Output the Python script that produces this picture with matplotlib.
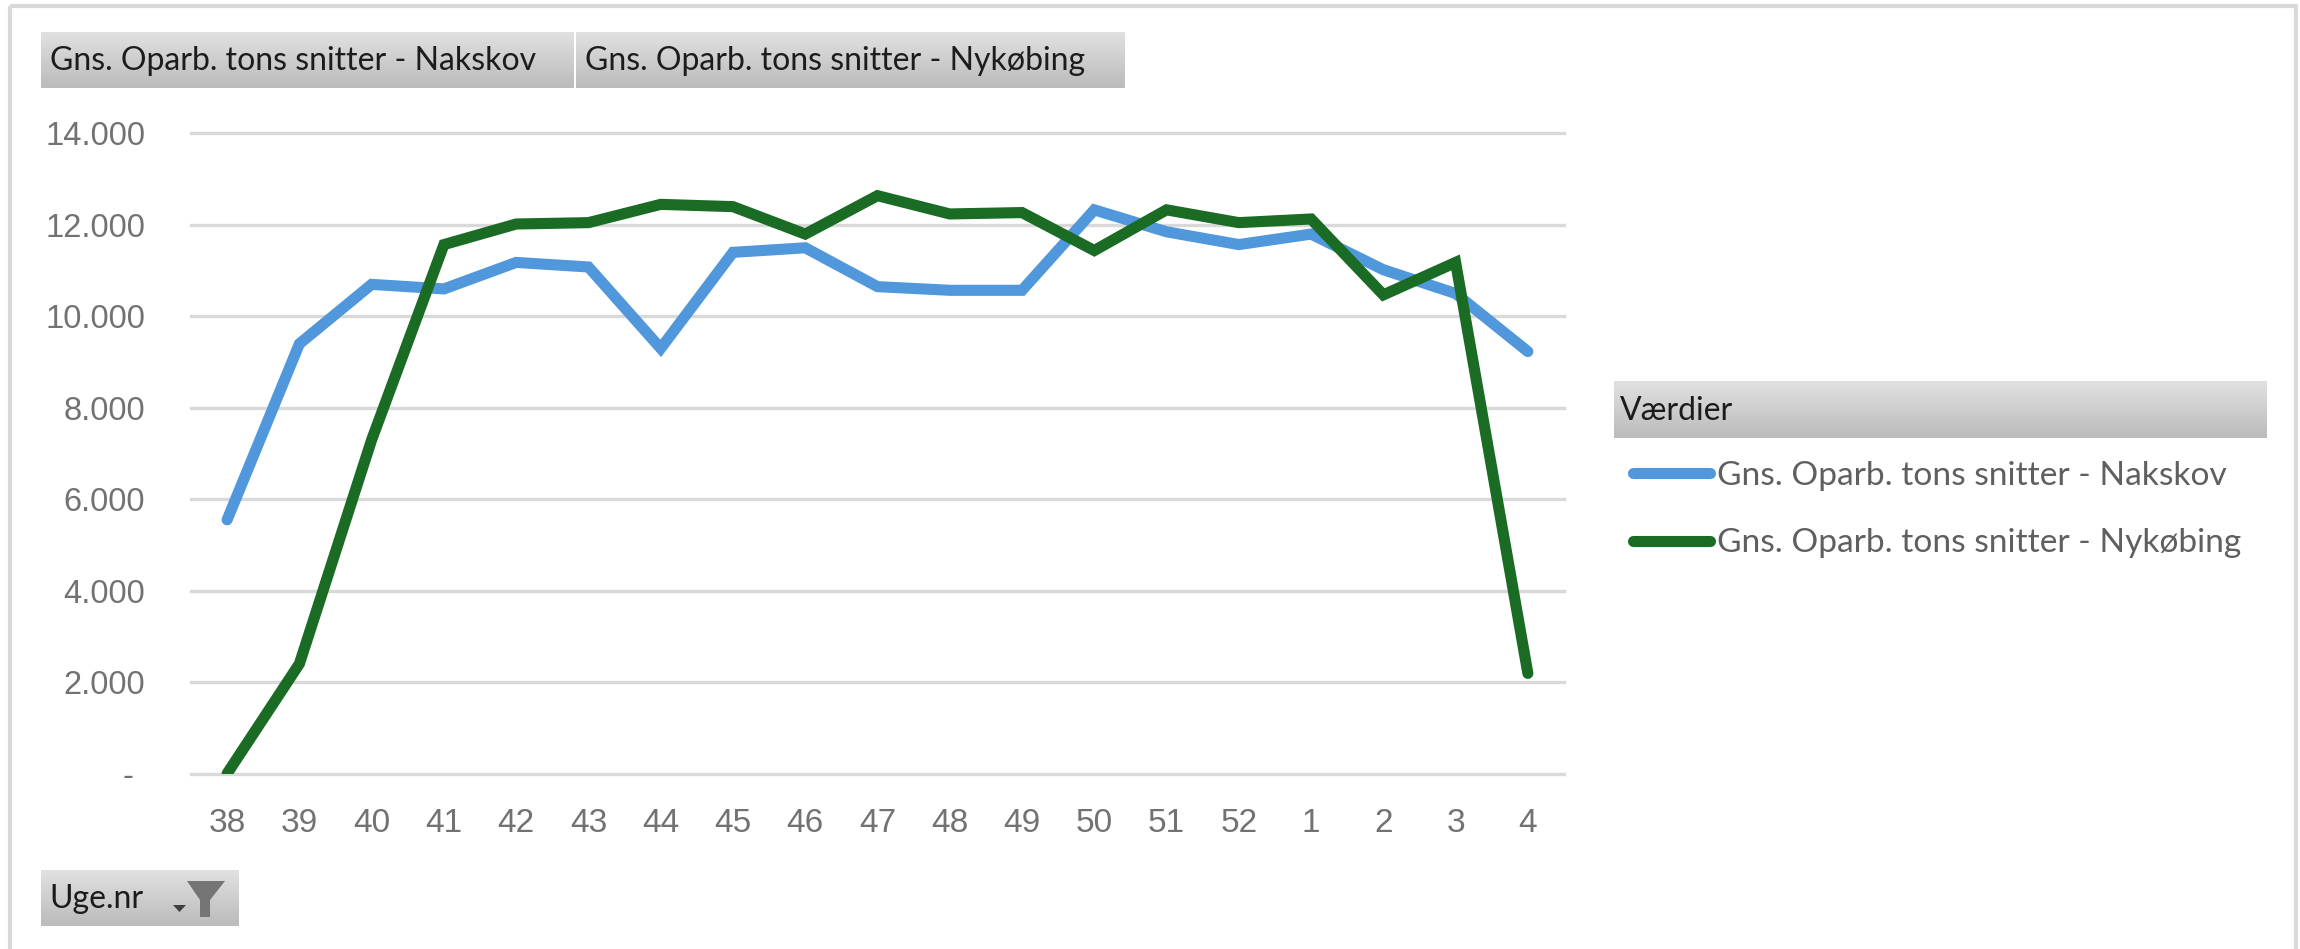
#!/usr/bin/python3

import numpy as np
import matplotlib
matplotlib.use('Agg')
import matplotlib.pyplot as plt
from matplotlib.colors import LinearSegmentedColormap
from matplotlib.patches import Polygon, Rectangle
from matplotlib.transforms import ScaledTranslation

# chart data
weeks = ['38','39','40','41','42','43','44','45','46','47','48','49','50','51','52','1','2','3','4']
nakskov = [5550,9400,10700,10600,11180,11080,9300,11400,11500,10650,10570,10570,12330,11850,11570,11800,11020,10500,9230]
nykobing = [0,2400,7300,11570,12020,12050,12450,12400,11800,12640,12240,12270,11440,12330,12050,12130,10470,11180,2190]
yticks = [0,2000,4000,6000,8000,10000,12000,14000]
ylabels = ['-','2.000','4.000','6.000','8.000','10.000','12.000','14.000']
label_nak = 'Gns. Oparb. tons snitter - Nakskov'
label_nyk = 'Gns. Oparb. tons snitter - Nykøbing'

W, H = 2300, 949
fig = plt.figure(figsize=(W/100, H/100), dpi=100, facecolor='white')

# full figure layer in pixel coordinates, for the pivot chart buttons
bg = fig.add_axes([0, 0, 1, 1], zorder=0)
grad = np.linspace(0, 1, 64).reshape(-1, 1)
button_cmap = LinearSegmentedColormap.from_list('button', ['#e1e1e1', '#bbbbbb'])

def button(x0, x1, y0, y1, txt, tx):
    bg.imshow(grad, extent=(x0, x1, y1, y0), cmap=button_cmap, aspect='auto', zorder=2)
    bg.text(tx, (y0+y1)/2 + 1, txt, family='Lato', fontsize=23, color='#1c1c1c', va='center', ha='left', zorder=3)

# window border
bg.add_patch(Rectangle((9.5, 5.5), 2286, 960, fc='none', ec='#d9d9d9', lw=3, zorder=1))

button(41, 574, 32, 88, label_nak, 50)
button(576, 1125, 32, 88, label_nyk, 585)
button(41, 239, 870, 926, 'Uge.nr', 49)
button(1614, 2267, 382, 438, 'Værdier', 1620)

# filter icon and drop arrow on the Uge.nr button
bg.add_patch(Polygon([(187, 881), (225, 881), (210, 900), (210, 917), (200, 917), (200, 900)], fc='#757575', ec='none', zorder=4))
bg.add_patch(Polygon([(173, 905), (186, 905), (179.5, 912)], fc='#404040', ec='none', zorder=4))
bg.set_xlim(0, W)
bg.set_ylim(H, 0)
bg.axis('off')

# plot area
left, right, top, bottom = 191, 1564, 133.5, 773.5
ax = fig.add_axes([left/W, 1-bottom/H, (right-left)/W, (bottom-top)/H], zorder=2)
ax.patch.set_alpha(0)
x = np.arange(len(weeks))
ax.plot(x, nakskov, color='#5097dc', lw=8, solid_joinstyle='miter', solid_capstyle='round', label=label_nak, zorder=3)
ax.plot(x, nykobing, color='#1a6b24', lw=8, solid_joinstyle='miter', solid_capstyle='round', label=label_nyk, zorder=4)
ax.set_xlim(-0.5, len(weeks)-0.5)
ax.set_ylim(0, 14000)
ax.set_xticks(x)
ax.set_xticklabels(weeks, family='Liberation Sans', fontsize=24, color='#727272')
ax.set_yticks(yticks)
ax.set_yticklabels(ylabels, family='Liberation Sans', fontsize=23.5, color='#727272')
ax.tick_params(axis='x', length=0, pad=25)
ax.tick_params(axis='y', length=0, pad=33)
ax.grid(axis='y', color='#d9d9d9', lw=2.4, clip_on=False)
ax.set_axisbelow(True)
for s in ax.spines.values():
    s.set_visible(False)

# the zero label sits further in (accounting format)
zero = ax.get_yticklabels()[0]
zero.set_transform(zero.get_transform() + ScaledTranslation(-12/100, 0, fig.dpi_scale_trans))

ax.legend(loc='upper left', bbox_to_anchor=(1633/W, 1-461/H), bbox_transform=fig.transFigure,
          frameon=False, prop={'family': 'Lato', 'size': 24.1}, labelcolor='#5f5f5f',
          handlelength=2.3, handletextpad=0.2, labelspacing=1.12, borderpad=0, borderaxespad=0)

fig.savefig('out.png', dpi=100)
